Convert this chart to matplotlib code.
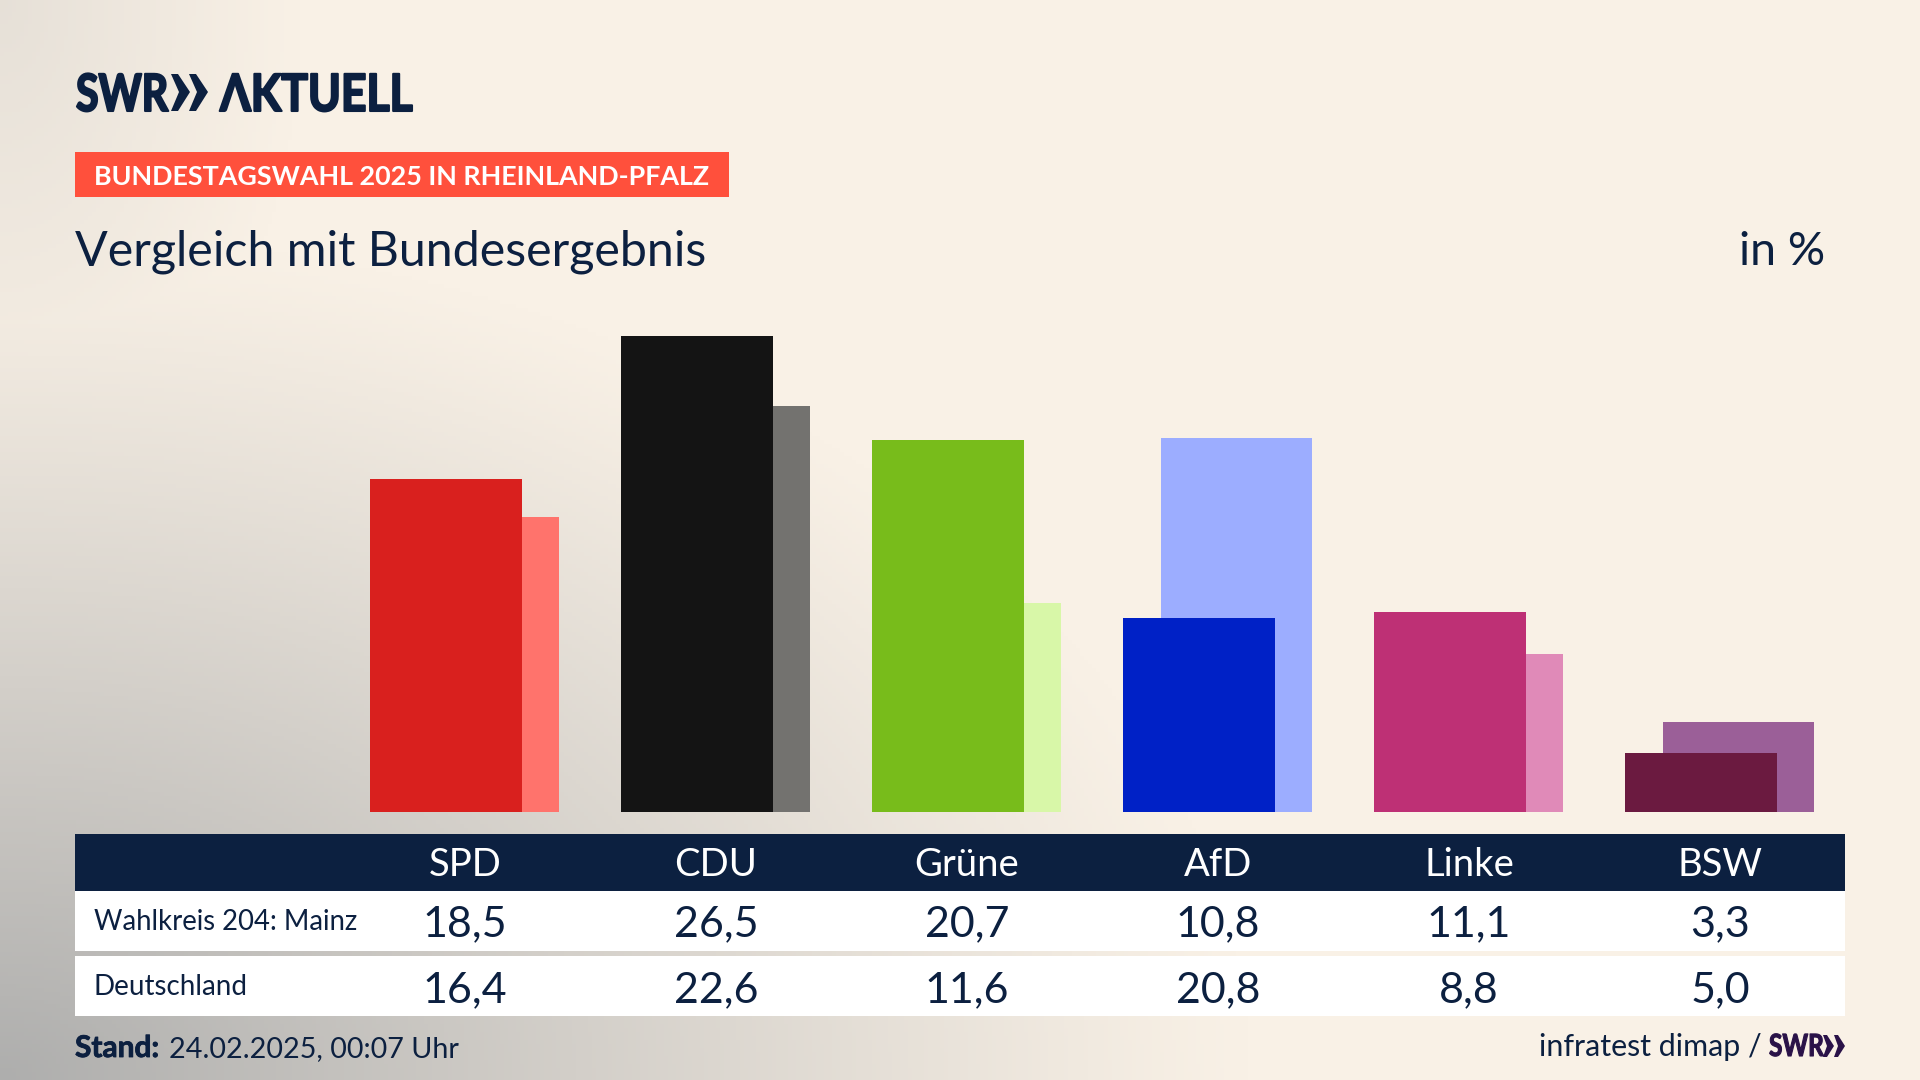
import numpy as np
import matplotlib
matplotlib.use("Agg")
import matplotlib.pyplot as plt
import matplotlib.patheffects as pe
from matplotlib.patches import Rectangle, Polygon
from matplotlib.transforms import Affine2D

parties = ["SPD", "CDU", "Grüne", "AfD", "Linke", "BSW"]
mainz = [18.5, 26.5, 20.7, 10.8, 11.1, 3.3]
deutschland = [16.4, 22.6, 11.6, 20.8, 8.8, 5.0]
colors_front = ["#d9201e", "#141414", "#78bc1b", "#0021c6", "#be3075", "#6b1a40"]
colors_back = ["#ff736c", "#73726f", "#d8f7a8", "#9cadff", "#e08ab8", "#9b5f98"]

navy = "#0c2040"
plt.rcParams["font.family"] = ["Lato", "DejaVu Sans"]


# no condensed bold font is installed, so squeeze the logo text sideways and thicken it
class Squeeze(pe.AbstractPathEffect):
    def __init__(self, sx, x0, lw, color):
        super().__init__()
        self.sx, self.x0, self.lw, self.color = sx, x0, lw, color

    def draw_path(self, renderer, gc, tpath, affine, rgbFace=None):
        a = affine + Affine2D().translate(-self.x0, 0).scale(self.sx, 1).translate(self.x0, 0)
        gc0 = renderer.new_gc()
        gc0.copy_properties(gc)
        gc0.set_linewidth(self.lw)
        gc0.set_foreground(self.color)
        renderer.draw_path(gc0, tpath, a, rgbFace)
        gc0.restore()


fig = plt.figure(figsize=(19.2, 10.8), dpi=100)

# background and everything that is not a bar, in pixels
bg = fig.add_axes([0, 0, 1, 1])
bg.set_xlim(0, 1920)
bg.set_ylim(1080, 0)
bg.axis("off")

yy, xx = np.mgrid[0:1080:270j, 0:1920:480j]
d = np.sqrt((xx / 1250) ** 2 + ((1080 - yy) / 850) ** 2)
t = np.clip(1 - d, 0, 1) ** 1.1
t2 = np.clip(1 - np.sqrt((xx / 300) ** 2 + (yy / 500) ** 2), 0, 1) * 0.25
t = np.clip(np.maximum(t, t2), 0, 1)[..., None]
cream = np.array([0xf9, 0xf1, 0xe6]) / 255
grey = np.array([0xae, 0xae, 0xad]) / 255
bg.imshow(cream * (1 - t) + grey * t, extent=(0, 1920, 1080, 0), aspect="auto", zorder=0)

# logo
bg.text(76, 111, "SWR", fontsize=37, fontweight="bold", color=navy, va="baseline",
        path_effects=[Squeeze(0.8, 76, 1.5, navy)])
for x0 in (171, 189):
    bg.add_patch(Polygon([(x0, 74), (x0 + 7, 74), (x0 + 19, 92), (x0 + 7, 111), (x0, 111), (x0 + 8, 92)],
                         color=navy, lw=0))
bg.text(220, 111, "ΛKTUELL", fontsize=37, fontweight="bold", color=navy, va="baseline",
        path_effects=[Squeeze(0.865, 220, 1.5, navy)])

# banner
bg.add_patch(Rectangle((75, 152), 654, 45, color="#ff503c", lw=0))
bg.text(94, 185, "BUNDESTAGSWAHL 2025 IN RHEINLAND-PFALZ", fontsize=19.4, fontweight="bold",
        color="white", va="baseline")

bg.text(75, 265, "Vergleich mit Bundesergebnis", fontsize=34.8, color=navy, va="baseline")
bg.text(1825, 265, "in %", fontsize=33.5, color=navy, va="baseline", ha="right")

# table
bg.add_patch(Rectangle((75, 834), 1770, 57, color=navy, lw=0))
bg.add_patch(Rectangle((75, 891), 1770, 60, color="white", lw=0))
bg.add_patch(Rectangle((75, 956), 1770, 60, color="white", lw=0))
bg.text(94, 930, "Wahlkreis 204: Mainz", fontsize=19.8, color=navy, va="baseline")
bg.text(94, 995, "Deutschland", fontsize=20, color=navy, va="baseline")

col_x = 465 + 251 * np.arange(len(parties))
for i, p in enumerate(parties):
    bg.text(col_x[i], 876, p, fontsize=27.5, color="white", ha="center", va="baseline")
    bg.text(col_x[i], 936, f"{mainz[i]:.1f}".replace(".", ","), fontsize=31, color=navy,
            ha="center", va="baseline")
    bg.text(col_x[i], 1002, f"{deutschland[i]:.1f}".replace(".", ","), fontsize=31, color=navy,
            ha="center", va="baseline")

# footer
bg.text(75, 1057, "Stand:", fontsize=21.5, fontweight="bold", color=navy, va="baseline",
        path_effects=[pe.withStroke(linewidth=0.6, foreground=navy)])
bg.text(169, 1057, "24.02.2025, 00:07 Uhr", fontsize=20.7, color=navy, va="baseline")
bg.text(1762, 1056, "infratest dimap /", fontsize=21.9, color=navy, ha="right", va="baseline")
bg.text(1769, 1056, "SWR", fontsize=22, fontweight="bold", color="#2a1248", va="baseline",
        path_effects=[Squeeze(0.8, 1769, 0.8, "#2a1248")])
for x0 in (1823, 1834):
    bg.add_patch(Polygon([(x0, 1035), (x0 + 4, 1035), (x0 + 11, 1046), (x0 + 4, 1057), (x0, 1057), (x0 + 4, 1046)],
                         color="#2a1248", lw=0))

# bars: one category = 251 px, one percentage point = 17.98 px
ax = fig.add_axes([0, 0, 1, 1])
ax.patch.set_alpha(0)
ax.set_xlim(-465 / 251, (1920 - 465) / 251)
ax.set_ylim(-(1080 - 812) / 17.98, 812 / 17.98)
ax.axis("off")
x = np.arange(len(parties))
ax.bar(x + 0.074, deutschland, width=0.604, color=colors_back, zorder=1)
ax.bar(x - 0.076, mainz, width=0.604, color=colors_front, zorder=2)

fig.savefig("out.png", dpi=100)
